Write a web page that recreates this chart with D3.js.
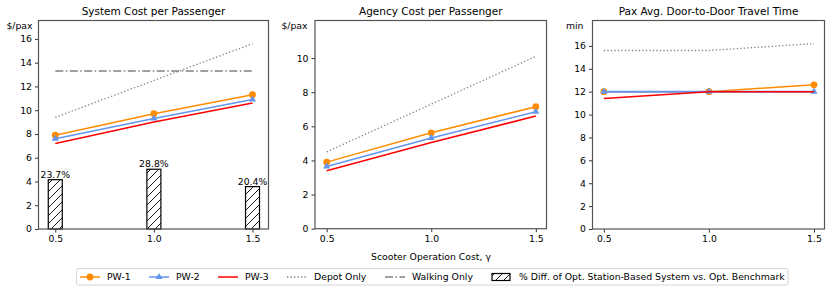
<!DOCTYPE html>
<html>
<head>
<meta charset="utf-8">
<script src="https://cdn.jsdelivr.net/npm/d3@7"></script>
<style>
  body { margin: 0; background: #fff; }
  svg { font-family: "DejaVu Sans", sans-serif; }
</style>
</head>
<body>
<svg id="chart" width="831" height="292"></svg>
<script>
/***************************************************************
    Data
****************************************************************/
const gammas = [0.5, 1.0, 1.5];

const sysPW1 = [7.9, 9.7, 11.3];
const sysPW2 = [7.6, 9.3, 10.9];
const sysPW3 = [7.2, 9.0, 10.6];
const sysDepot = [9.4, 12.5, 15.6];
const sysWalking = [13.3, 13.3, 13.3];
const sysBarHeights = [4.15, 5.03, 3.57];
const sysBarLabels = ["23.7%", "28.8%", "20.4%"];

const agencyPW1 = [3.9, 5.62, 7.15];
const agencyPW2 = [3.65, 5.32, 6.85];
const agencyPW3 = [3.4, 5.05, 6.6];
const agencyDepot = [4.5, 7.3, 10.1];

const timePW1 = [12.0, 12.0, 12.6];
const timePW2 = [12.0, 12.0, 12.0];
const timePW3 = [11.4, 12.0, 12.0];
const timeDepot = [15.6, 15.6, 16.2];

const xTicks = [0.5, 1.0, 1.5];
const legendLabels = ["PW-1", "PW-2", "PW-3", "Depot Only", "Walking Only",
    "% Diff. of Opt. Station-Based System vs. Opt. Benchmark"];

/***************************************************************
    Styles
****************************************************************/
const cOrange = "#ff8c00", cBlue = "#6495ed", cRed = "#ff0000", cGray = "#808080";
const spineColor = "#555";
const fs = 9.3;
const dotted = "1.3,2.2", dashDot = "8,2.5,1.5,2.5";

const svg = d3.select("#chart");

const defs = svg.append("defs");
const hatch = defs.append("pattern").attr("id", "hatch")
    .attr("patternUnits", "userSpaceOnUse").attr("width", 8).attr("height", 8);
hatch.append("path").attr("d", "M-1,1 l2,-2 M0,8 l8,-8 M7,9 l2,-2")
    .attr("stroke", "#000").attr("stroke-width", 0.9);

/***************************************************************
    Panels
****************************************************************/
function drawPanel(opts) {
    const x = d3.scaleLinear().domain(opts.xDomain).range([opts.left, opts.right]);
    const y = d3.scaleLinear().domain(opts.yDomain).range([opts.bottom, opts.top]);
    const g = svg.append("g");

    if (opts.bars) {
        const bw = x(0.5 + 0.071) - x(0.5);
        g.selectAll("rect.bar").data(opts.bars).enter().append("rect")
            .attr("x", (d, i) => x(gammas[i]) - bw / 2)
            .attr("y", d => y(d))
            .attr("width", bw)
            .attr("height", d => y(0) - y(d))
            .attr("fill", "url(#hatch)")
            .attr("stroke", "#000").attr("stroke-width", 1.2);
        g.selectAll("text.bl").data(opts.bars).enter().append("text")
            .attr("x", (d, i) => x(gammas[i]))
            .attr("y", d => y(d) - 2)
            .attr("text-anchor", "middle").attr("font-size", fs)
            .text((d, i) => sysBarLabels[i]);
    }

    const line = d3.line().x((d, i) => x(gammas[i])).y(d => y(d));

    opts.series.forEach(s => {
        g.append("path").datum(s.values).attr("d", line)
            .attr("fill", "none").attr("stroke", s.color)
            .attr("stroke-width", s.width || 1.5)
            .attr("stroke-dasharray", s.dash || null);
        if (s.marker === "circle") {
            g.selectAll(null).data(s.values).enter().append("circle")
                .attr("cx", (d, i) => x(gammas[i])).attr("cy", d => y(d))
                .attr("r", 3.4).attr("fill", s.color);
        } else if (s.marker === "triangle") {
            g.selectAll(null).data(s.values).enter().append("path")
                .attr("d", d3.symbol(d3.symbolTriangle, 22))
                .attr("transform", (d, i) => `translate(${x(gammas[i])},${y(d)})`)
                .attr("fill", s.color);
        }
    });

    // axes
    const yAxis = g.append("g").attr("transform", `translate(${opts.left},0)`)
        .call(d3.axisLeft(y).tickValues(opts.yTicks).tickSize(3.5).tickPadding(3).tickFormat(d3.format("d")));
    const xAxis = g.append("g").attr("transform", `translate(0,${opts.bottom})`)
        .call(d3.axisBottom(x).tickValues(xTicks).tickSize(3.5).tickPadding(3).tickFormat(d3.format(".1f")));
    [yAxis, xAxis].forEach(a => {
        a.select(".domain").remove();
        a.selectAll("text").attr("font-size", fs).attr("fill", "#000").attr("font-family", "DejaVu Sans");
        a.selectAll("line").attr("stroke", "#000").attr("stroke-width", 0.8);
    });

    g.append("rect").attr("x", opts.left).attr("y", opts.top)
        .attr("width", opts.right - opts.left).attr("height", opts.bottom - opts.top)
        .attr("fill", "none").attr("stroke", spineColor).attr("stroke-width", 1.2);

    g.append("text").attr("x", (opts.left + opts.right) / 2).attr("y", 14.5)
        .attr("text-anchor", "middle").attr("font-size", 10.5).text(opts.title);
    g.append("text").attr("x", opts.unitX).attr("y", 28.5)
        .attr("text-anchor", "middle").attr("font-size", fs).text(opts.unit);
}

drawPanel({
    left: 38.5, right: 268.5, top: 20.5, bottom: 229, unitX: 19.5,
    xDomain: [0.415, 1.581], yDomain: [0, 17.55], yTicks: [0, 2, 4, 6, 8, 10, 12, 14, 16],
    title: "System Cost per Passenger", unit: "$/pax",
    bars: sysBarHeights,
    series: [
        { values: sysDepot, color: cGray, dash: dotted, width: 1.3 },
        { values: sysWalking, color: cGray, dash: dashDot, width: 1.3 },
        { values: sysPW1, color: cOrange, marker: "circle" },
        { values: sysPW2, color: cBlue, marker: "triangle" },
        { values: sysPW3, color: cRed }
    ]
});

drawPanel({
    left: 315, right: 546.5, top: 20.5, bottom: 228.7, unitX: 294.5,
    xDomain: [0.444, 1.551], yDomain: [0, 12.2], yTicks: [0, 2, 4, 6, 8, 10],
    title: "Agency Cost per Passenger", unit: "$/pax",
    series: [
        { values: agencyDepot, color: cGray, dash: dotted, width: 1.3 },
        { values: agencyPW1, color: cOrange, marker: "circle" },
        { values: agencyPW2, color: cBlue, marker: "triangle" },
        { values: agencyPW3, color: cRed }
    ]
});

drawPanel({
    left: 592.5, right: 824.5, top: 20.5, bottom: 229, unitX: 574.7,
    xDomain: [0.446, 1.55], yDomain: [0, 18.22], yTicks: [0, 2, 4, 6, 8, 10, 12, 14, 16],
    title: "Pax Avg. Door-to-Door Travel Time", unit: "min",
    series: [
        { values: timeDepot, color: cGray, dash: dotted, width: 1.3 },
        { values: timePW1, color: cOrange, marker: "circle" },
        { values: timePW2, color: cBlue, marker: "triangle", width: 2 },
        { values: timePW3, color: cRed }
    ]
});

svg.append("text").attr("x", 431).attr("y", 259.5).attr("text-anchor", "middle")
    .attr("font-size", fs).text("Scooter Operation Cost, \u03b3");

/***************************************************************
    Legend
****************************************************************/
const lg = svg.append("g");
lg.append("rect").attr("x", 76.5).attr("y", 268.5).attr("width", 711.5).attr("height", 16.5)
    .attr("rx", 2).attr("fill", "#fff").attr("stroke", "#d5d5d5").attr("stroke-width", 1);
const ly = 277;
const items = [
    { x: 80, color: cOrange, marker: "circle" },
    { x: 149, color: cBlue, marker: "triangle" },
    { x: 218, color: cRed },
    { x: 287, color: cGray, dash: dotted, width: 1.3 },
    { x: 385, color: cGray, dash: dashDot, width: 1.3 },
    { x: 492, patch: true }
];
items.forEach((it, i) => {
    if (it.patch) {
        lg.append("rect").attr("x", it.x).attr("y", ly - 3.5).attr("width", 18).attr("height", 7)
            .attr("fill", "url(#hatch)").attr("stroke", "#000").attr("stroke-width", 1.2);
    } else {
        lg.append("line").attr("x1", it.x).attr("x2", it.x + 20).attr("y1", ly).attr("y2", ly)
            .attr("stroke", it.color).attr("stroke-width", it.width || 1.5)
            .attr("stroke-dasharray", it.dash || null);
        if (it.marker === "circle")
            lg.append("circle").attr("cx", it.x + 10).attr("cy", ly).attr("r", 3.4).attr("fill", it.color);
        if (it.marker === "triangle")
            lg.append("path").attr("d", d3.symbol(d3.symbolTriangle, 22))
                .attr("transform", `translate(${it.x + 10},${ly})`).attr("fill", it.color);
    }
    lg.append("text").attr("x", it.x + 27).attr("y", ly + 3.3)
        .attr("font-size", fs).text(legendLabels[i]);
});
</script>
</body>
</html>
